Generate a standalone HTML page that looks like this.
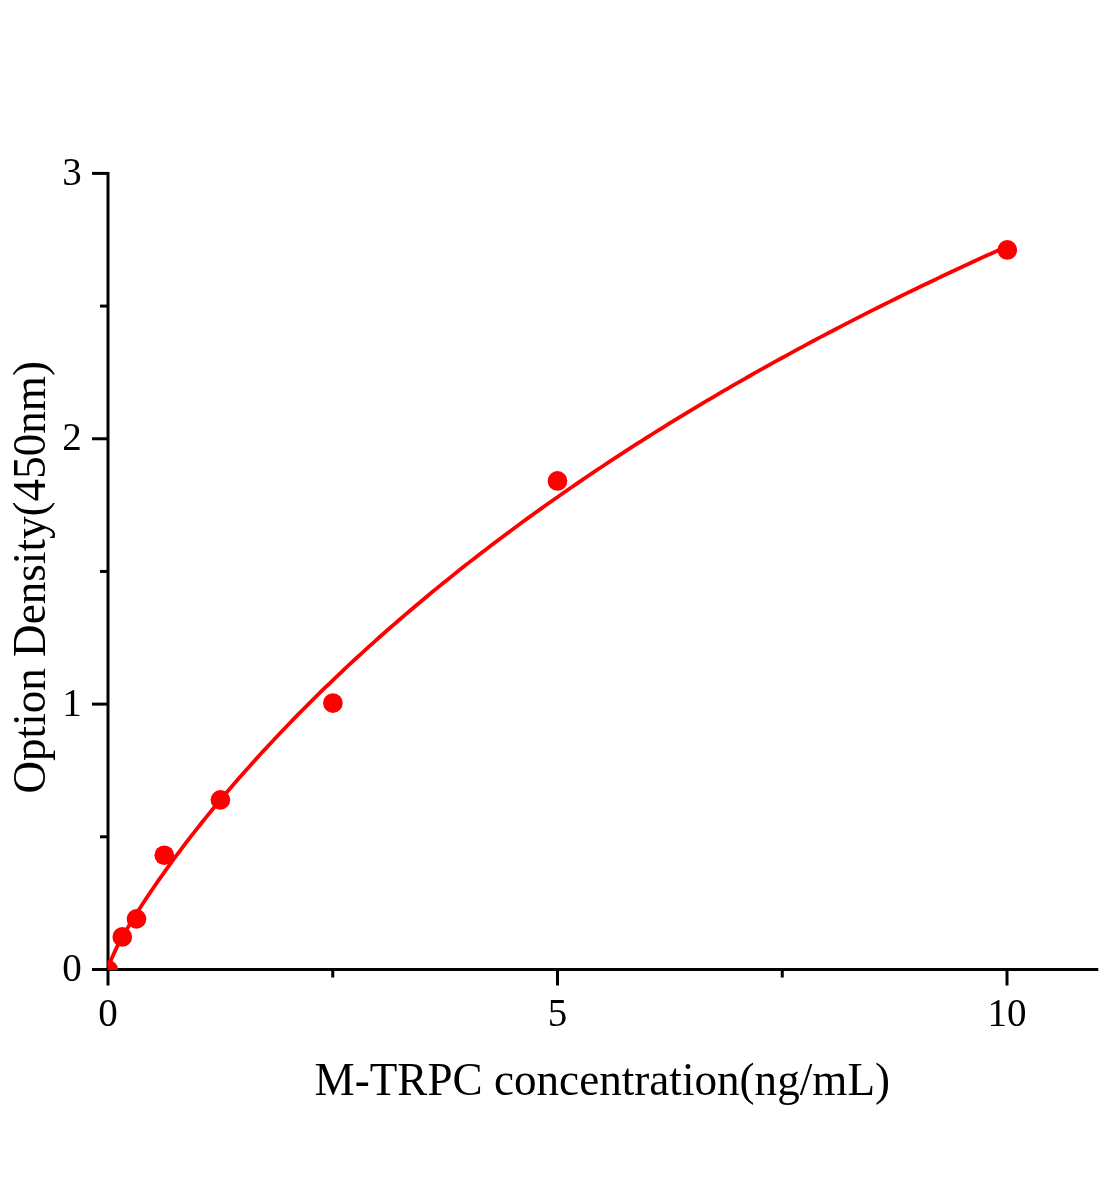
<!DOCTYPE html>
<html lang="en"><head><meta charset="utf-8"><title>M-TRPC standard curve</title>
<style>html,body{margin:0;padding:0;background:#fff}svg{display:block}</style></head>
<body>
<svg width="1104" height="1200" viewBox="0 0 1104 1200">
<defs><clipPath id="plot"><rect x="107.6" y="0" width="996" height="970.1"/></clipPath></defs>
<rect width="1104" height="1200" fill="#fff"/>
<g stroke="#000" stroke-width="3.0" fill="none">
<line x1="108" y1="171.9" x2="108" y2="971.0"/>
<line x1="106.5" y1="969.5" x2="1098.3" y2="969.5"/>
<line x1="92" y1="969.50" x2="108" y2="969.50"/>
<line x1="100" y1="836.82" x2="108" y2="836.82"/>
<line x1="92" y1="704.13" x2="108" y2="704.13"/>
<line x1="100" y1="571.45" x2="108" y2="571.45"/>
<line x1="92" y1="438.77" x2="108" y2="438.77"/>
<line x1="100" y1="306.08" x2="108" y2="306.08"/>
<line x1="92" y1="173.40" x2="108" y2="173.40"/>
<line x1="108.00" y1="969.5" x2="108.00" y2="985.5"/>
<line x1="332.75" y1="969.5" x2="332.75" y2="977.5"/>
<line x1="557.50" y1="969.5" x2="557.50" y2="985.5"/>
<line x1="782.25" y1="969.5" x2="782.25" y2="977.5"/>
<line x1="1007.00" y1="969.5" x2="1007.00" y2="985.5"/>
</g>
<g clip-path="url(#plot)">
<path d="M108.00,966.34 L116.99,946.89 L118.23,944.57 L119.47,942.29 L120.71,940.04 L121.95,937.83 L123.19,935.64 L124.43,933.48 L125.67,931.35 L126.91,929.23 L128.15,927.14 L129.39,925.07 L130.63,923.01 L131.87,920.98 L133.11,918.96 L134.35,916.95 L135.59,914.97 L136.83,912.99 L138.07,911.03 L139.31,909.09 L140.55,907.16 L141.79,905.24 L143.03,903.33 L144.27,901.43 L145.51,899.55 L146.75,897.68 L147.99,895.81 L149.23,893.96 L150.47,892.12 L151.71,890.29 L152.95,888.47 L158.32,880.68 L163.69,873.06 L169.06,865.58 L174.44,858.24 L179.81,851.03 L185.18,843.94 L190.55,836.95 L195.92,830.08 L201.29,823.30 L206.66,816.62 L212.04,810.04 L217.41,803.54 L222.78,797.12 L228.15,790.78 L233.52,784.53 L238.89,778.34 L244.26,772.23 L249.63,766.19 L255.01,760.22 L260.38,754.31 L265.75,748.47 L271.12,742.69 L276.49,736.97 L281.86,731.31 L287.23,725.70 L292.61,720.16 L297.98,714.66 L303.35,709.22 L308.72,703.83 L314.09,698.50 L319.46,693.21 L324.83,687.97 L330.21,682.78 L335.58,677.63 L340.95,672.53 L346.32,667.48 L351.69,662.47 L357.06,657.50 L362.43,652.57 L367.81,647.69 L373.18,642.85 L378.55,638.04 L383.92,633.28 L389.29,628.55 L394.66,623.86 L400.03,619.21 L405.41,614.60 L410.78,610.02 L416.15,605.47 L421.52,600.97 L426.89,596.49 L432.26,592.05 L437.63,587.65 L443.00,583.27 L448.38,578.93 L453.75,574.62 L459.12,570.34 L464.49,566.09 L469.86,561.87 L475.23,557.69 L480.60,553.53 L485.98,549.40 L491.35,545.30 L496.72,541.23 L502.09,537.18 L507.46,533.17 L512.83,529.18 L518.20,525.22 L523.58,521.28 L528.95,517.37 L534.32,513.49 L539.69,509.63 L545.06,505.80 L550.43,501.99 L555.80,498.21 L561.18,494.45 L566.55,490.71 L571.92,487.00 L577.29,483.31 L582.66,479.65 L588.03,476.01 L593.40,472.39 L598.77,468.79 L604.15,465.22 L609.52,461.67 L614.89,458.14 L620.26,454.63 L625.63,451.14 L631.00,447.67 L636.37,444.22 L641.75,440.80 L647.12,437.39 L652.49,434.01 L657.86,430.64 L663.23,427.29 L668.60,423.97 L673.97,420.66 L679.35,417.37 L684.72,414.10 L690.09,410.85 L695.46,407.61 L700.83,404.40 L706.20,401.20 L711.57,398.02 L716.95,394.86 L722.32,391.72 L727.69,388.59 L733.06,385.48 L738.43,382.39 L743.80,379.31 L749.17,376.26 L754.54,373.21 L759.92,370.19 L765.29,367.18 L770.66,364.18 L776.03,361.21 L781.40,358.25 L786.77,355.30 L792.14,352.37 L797.52,349.45 L802.89,346.55 L808.26,343.67 L813.63,340.80 L819.00,337.94 L824.37,335.10 L829.74,332.27 L835.12,329.46 L840.49,326.66 L845.86,323.88 L851.23,321.11 L856.60,318.35 L861.97,315.61 L867.34,312.88 L872.72,310.17 L878.09,307.47 L883.46,304.78 L888.83,302.11 L894.20,299.44 L899.57,296.79 L904.94,294.16 L910.32,291.54 L915.69,288.93 L921.06,286.33 L926.43,283.74 L931.80,281.17 L937.17,278.61 L942.54,276.06 L947.91,273.52 L953.29,271.00 L958.66,268.48 L964.03,265.98 L969.40,263.49 L974.77,261.02 L980.14,258.55 L985.51,256.09 L990.89,253.65 L996.26,251.22 L1001.63,248.80 L1007.00,246.39" fill="none" stroke="#f00" stroke-width="3.8" stroke-linejoin="round"/>
<circle cx="108.3" cy="969.85" r="9.85" fill="#f00"/>
<circle cx="122.3" cy="936.95" r="9.85" fill="#f00"/>
<circle cx="136.5" cy="918.85" r="9.85" fill="#f00"/>
<circle cx="164.3" cy="855.25" r="9.85" fill="#f00"/>
<circle cx="220.4" cy="799.85" r="9.85" fill="#f00"/>
<circle cx="332.9" cy="703.05" r="9.85" fill="#f00"/>
<circle cx="557.5" cy="480.95" r="9.85" fill="#f00"/>
<circle cx="1007.3" cy="249.95" r="9.85" fill="#f00"/>
</g>
<g font-family="'Liberation Serif', 'Times New Roman', serif" fill="#000" font-size="39">
<text x="81.8" y="981.1" text-anchor="end">0</text>
<text x="81.8" y="715.7" text-anchor="end">1</text>
<text x="81.8" y="450.4" text-anchor="end">2</text>
<text x="81.8" y="185.0" text-anchor="end">3</text>
<text x="108.0" y="1025.6" text-anchor="middle">0</text>
<text x="557.5" y="1025.6" text-anchor="middle">5</text>
<text x="1007.0" y="1025.6" text-anchor="middle">10</text>
<text transform="translate(602.3,1094.5) scale(1,1.035)" font-size="45.15" text-anchor="middle">M-TRPC concentration(ng/mL)</text>
<text transform="translate(44.6,577.3) rotate(-90) scale(1,1.035)" font-size="45.15" text-anchor="middle">Option Density(450nm)</text>
</g></svg>
</body></html>
